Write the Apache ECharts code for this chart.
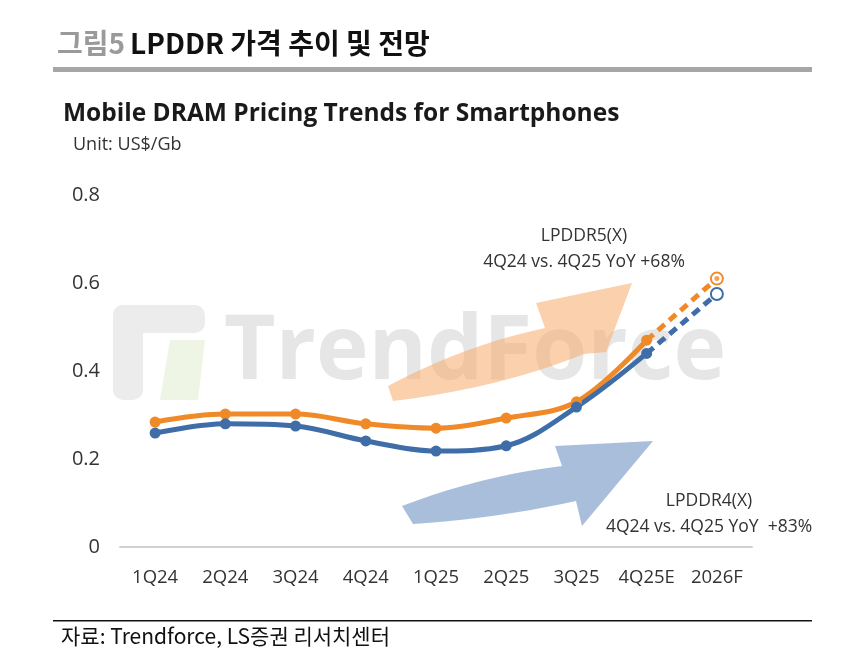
<!DOCTYPE html>
<html>
<head>
<meta charset="utf-8">
<script src="https://cdn.jsdelivr.net/npm/echarts@6/dist/echarts.min.js"></script>
<style>
html, body { margin: 0; padding: 0; background: #fff; }
#chart { width: 851px; height: 667px; }
</style>
</head>
<body>
<div id="chart"></div>
<script>
// quarters on the x axis
var categories = ['1Q24', '2Q24', '3Q24', '4Q24', '1Q25', '2Q25', '3Q25', '4Q25E', '2026F'];
// US$/Gb
var lpddr5 = [0.284, 0.302, 0.302, 0.280, 0.270, 0.293, 0.330, 0.470, 0.610];
var lpddr4 = [0.259, 0.280, 0.275, 0.241, 0.218, 0.230, 0.318, 0.440, 0.575];
var yTicks = [0, 0.2, 0.4, 0.6, 0.8];
var forecastFrom = 7; // 4Q25E -> 2026F is dashed

var orange = '#F08A28';
var blue = '#3F6DA8';
var font = '"Open Sans", "Noto Sans", sans-serif';
var krFont = '"Noto Sans CJK KR", sans-serif';

function part(arr, from, to) {
	return arr.map(function (v, i) {
		return (i >= from && i <= to) ? v : '-';
	});
}
function onlyLast(arr) {
	return arr.map(function (v, i) {
		return i === arr.length - 1 ? v : '-';
	});
}
// sample a quadratic curve into points (for the decorative arrows)
function quad(p0, c, p1) {
	var pts = [];
	for (var t = 0; t <= 1.0001; t += 0.1) {
		var u = 1 - t;
		pts.push([u * u * p0[0] + 2 * u * t * c[0] + t * t * p1[0],
			u * u * p0[1] + 2 * u * t * c[1] + t * t * p1[1]]);
	}
	return pts;
}
function arrow(tailTop, ctrlTop, neckTop, headA, tip, headB, neckBot, ctrlBot, tailBot) {
	return [].concat(quad(tailTop, ctrlTop, neckTop), [headA, tip, headB], quad(neckBot, ctrlBot, tailBot));
}

function lineSeries(name, arr, color) {
	return [{
		name: name,
		type: 'line',
		data: part(arr, 0, forecastFrom),
		smooth: 0.35,
		symbol: 'circle',
		symbolSize: 11,
		itemStyle: { color: color },
		lineStyle: { width: 5, color: color },
		z: 3
	}, {
		name: name,
		type: 'line',
		data: part(arr, forecastFrom, arr.length - 1),
		symbol: function (v, p) {
			return p.dataIndex === arr.length - 1 ? 'emptyCircle' : 'none';
		},
		symbolSize: 12,
		itemStyle: { color: color, borderWidth: 2 },
		lineStyle: { width: 5, color: color, type: [9, 6] },
		z: 3
	}];
}

var chart = echarts.init(document.getElementById('chart'));

var series = [].concat(
	lineSeries('LPDDR5(X)', lpddr5, orange),
	lineSeries('LPDDR4(X)', lpddr4, blue)
);
// small dot inside the last LPDDR5 marker
series.push({
	type: 'scatter',
	data: onlyLast(lpddr5),
	symbolSize: 5,
	itemStyle: { color: orange },
	z: 4
});

var option = {
	backgroundColor: '#fff',
	animation: false,
	title: [{
		text: '{g|그림5} {b|LPDDR 가격 추이 및 전망}',
		left: 52, top: 24,
		textStyle: {
			rich: {
				g: { fontFamily: krFont, fontSize: 28, color: '#9a9a9a', fontWeight: 'bold' },
				b: { fontFamily: krFont, fontSize: 28, color: '#111', fontWeight: 'bold' }
			}
		}
	}, {
		text: 'Mobile DRAM Pricing Trends for Smartphones',
		left: 58, top: 97,
		textStyle: { fontFamily: font, fontSize: 24.5, fontWeight: 'bold', color: '#1a1a1a' }
	}, {
		text: 'Unit: US$/Gb',
		left: 68, top: 131,
		textStyle: { fontFamily: font, fontSize: 18, fontWeight: 'normal', color: '#333' }
	}, {
		text: 'LPDDR5(X)\n4Q24 vs. 4Q25 YoY +68%',
		left: 579, top: 218, textAlign: 'center',
		textStyle: { fontFamily: font, fontSize: 17.5, fontWeight: 'normal', color: '#333', lineHeight: 26, align: 'center' }
	}, {
		text: 'LPDDR4(X)\n4Q24 vs. 4Q25 YoY  +83%',
		left: 704, top: 483, textAlign: 'center',
		textStyle: { fontFamily: font, fontSize: 17.5, fontWeight: 'normal', color: '#333', lineHeight: 26, align: 'center' }
	}, {
		text: '자료: Trendforce, LS증권 리서치센터',
		left: 56, top: 621,
		textStyle: { fontFamily: krFont, fontSize: 21, fontWeight: 'normal', color: '#111' }
	}],
	grid: { left: 120, right: 99, top: 195, bottom: 120 },
	xAxis: {
		type: 'category',
		data: categories,
		boundaryGap: true,
		axisLine: { lineStyle: { color: '#d0d0d0', width: 2 } },
		axisTick: { show: false },
		axisLabel: { interval: 0, hideOverlap: false, fontFamily: font, fontSize: 18.5, color: '#333', margin: 21 }
	},
	yAxis: {
		type: 'value',
		min: yTicks[0],
		max: yTicks[yTicks.length - 1],
		interval: yTicks[1] - yTicks[0],
		axisLine: { show: false },
		axisTick: { show: false },
		splitLine: { show: false },
		axisLabel: { fontFamily: font, fontSize: 20, color: '#333', margin: 20 }
	},
	graphic: [
		// header bar and footer rule
		{ type: 'rect', shape: { x: 53, y: 67, width: 759, height: 5 }, style: { fill: '#a6a6a6' } },
		{ type: 'rect', shape: { x: 53, y: 620, width: 759, height: 1.5 }, style: { fill: '#111' } },
		// faint watermark
		{ type: 'rect', shape: { x: 113, y: 305, width: 92, height: 28, r: 10 }, style: { fill: '#ececec' }, z: -2 },
		{ type: 'rect', shape: { x: 113, y: 305, width: 30, height: 95, r: 10 }, style: { fill: '#ececec' }, z: -2 },
		{ type: 'polygon', shape: { points: [[170, 340], [205, 340], [198, 400], [160, 400]] }, style: { fill: '#eef5e4' }, z: -2 },
		{ type: 'text', x: 224, y: 398, style: { text: 'TrendForce', font: 'bold 89px ' + font, fill: '#e6e6e6', textVerticalAlign: 'bottom' }, z: -2 },
		// orange up arrow
		{
			type: 'polygon',
			shape: { points: arrow([388, 386], [465, 345], [545, 328], [536, 303], [632, 283], [606, 352], [584, 354], [500, 388], [393, 401]) },
			style: { fill: 'rgba(246,170,105,0.55)' }, z: -1
		},
		// blue up arrow
		{
			type: 'polygon',
			shape: { points: arrow([402, 506], [480, 476], [562, 466], [555, 446], [653, 441], [582, 526], [576, 501], [500, 518], [413, 524]) },
			style: { fill: 'rgba(132,162,204,0.7)' }, z: -1
		}
	],
	series: series
};
chart.setOption(option);
</script>
</body>
</html>
